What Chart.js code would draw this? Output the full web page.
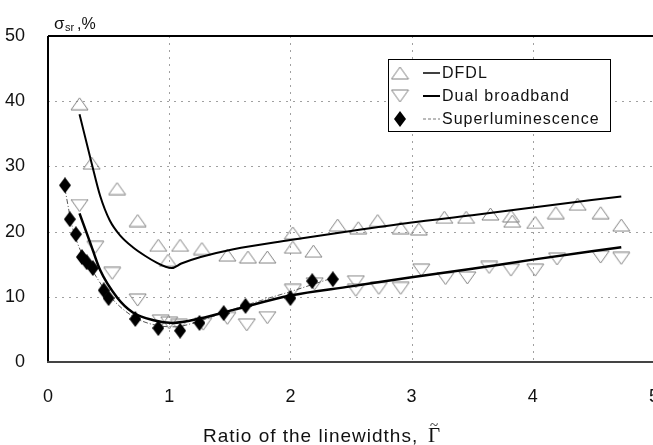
<!DOCTYPE html>
<html lang="en">
<head>
<meta charset="UTF-8">
<title>Ratio of the linewidths</title>
<script src="https://cdn.jsdelivr.net/npm/chart.js"></script>
<style>
  body { margin: 0; overflow: hidden; background: #fff; }
  #wrap { width: 675px; height: 445px; }
</style>
</head>
<body>
<div id="wrap"><canvas id="grafico"></canvas></div>
<script>
// valores
const dfdlX = [0.26, 0.36, 0.57, 0.74, 0.91, 0.99, 1.09, 1.27, 1.48, 1.65, 1.81, 2.02, 2.02, 2.19, 2.39, 2.56, 2.72, 2.91, 3.06, 3.27, 3.45, 3.65, 3.82, 3.83, 4.02, 4.19, 4.37, 4.56, 4.73];
const dfdlY = [39.6, 30.5, 26.6, 21.7, 17.9, 15.6, 17.9, 17.4, 16.4, 16.1, 16.1, 19.8, 17.6, 17.0, 21.0, 20.6, 21.7, 20.6, 20.4, 22.2, 22.2, 22.7, 22.4, 21.6, 21.4, 22.9, 24.2, 22.9, 21.0];

const dualX = [0.26, 0.39, 0.53, 0.74, 0.93, 1.0, 1.08, 1.28, 1.48, 1.64, 1.81, 2.02, 2.2, 2.54, 2.54, 2.73, 2.91, 3.08, 3.28, 3.46, 3.64, 3.82, 4.02, 4.2, 4.56, 4.73];
const dualY = [24.0, 17.6, 13.6, 9.5, 6.3, 6.0, 5.6, 5.8, 6.7, 5.7, 6.8, 11.0, 12.0, 12.3, 11.0, 11.3, 11.3, 14.1, 12.8, 12.9, 14.5, 14.1, 14.1, 15.8, 16.1, 15.9];

const superX = [0.14, 0.18, 0.23, 0.28, 0.32, 0.37, 0.46, 0.50, 0.72, 0.91, 1.09, 1.25, 1.45, 1.63, 2.0, 2.18, 2.35];
const superY = [27.1, 21.9, 19.6, 16.1, 15.3, 14.4, 11.0, 9.8, 6.6, 5.2, 4.8, 6.0, 7.5, 8.6, 9.8, 12.4, 12.7];

const dfdlFitX = [0.26, 0.36, 0.43, 0.51, 0.60, 0.70, 0.80, 0.90, 0.97, 1.02, 1.10, 1.26, 1.53, 2.0, 2.5, 3.0, 3.5, 4.0, 4.73];
const dfdlFitY = [38.0, 30.5, 25.5, 21.7, 19.3, 17.6, 16.3, 15.2, 14.6, 14.4, 15.1, 16.1, 17.3, 18.7, 20.1, 21.4, 22.5, 23.7, 25.4];

const dualFitX = [0.26, 0.35, 0.43, 0.57, 0.70, 0.87, 1.03, 1.26, 1.53, 2.0, 2.5, 3.0, 3.5, 4.0, 4.73];
const dualFitY = [22.8, 18.2, 14.1, 9.9, 7.6, 6.4, 6.0, 6.7, 8.0, 10.2, 11.6, 13.0, 14.3, 15.7, 17.6];

const superFitX = [0.14, 0.20, 0.28, 0.37, 0.50, 0.70, 0.90, 1.05, 1.25, 1.50, 1.75, 2.0, 2.35];
const superFitY = [26.5, 20.8, 16.6, 13.9, 10.3, 7.0, 5.6, 5.4, 6.3, 7.9, 9.4, 10.8, 12.9];

const xTicks = [0, 1, 2, 3, 4, 5];
const yTicks = [0, 10, 20, 30, 40, 50];

const fonte = "'Liberation Sans', Arial, sans-serif";

function pts(xs, ys) {
    return xs.map((x, i) => ({ x: x, y: ys[i] }));
}

// marcadores desenhados num canvas pequeno
function makeMarker(tipo) {
    const c = document.createElement('canvas');
    const ctx = c.getContext('2d');
    if (tipo === 'diamond') {
        c.width = 12; c.height = 16;
        ctx.fillStyle = '#000';
        ctx.beginPath();
        ctx.moveTo(6, 0); ctx.lineTo(12, 8); ctx.lineTo(6, 16); ctx.lineTo(0, 8);
        ctx.closePath();
        ctx.fill();
        return c;
    }
    c.width = 19; c.height = 14;
    ctx.strokeStyle = '#808080';
    ctx.lineWidth = 1;
    ctx.beginPath();
    if (tipo === 'up') {
        ctx.moveTo(9.5, 1); ctx.lineTo(18, 13); ctx.lineTo(1, 13);
    } else {
        ctx.moveTo(1, 1); ctx.lineTo(18, 1); ctx.lineTo(9.5, 13);
    }
    ctx.closePath();
    ctx.stroke();
    return c;
}

const upMark = makeMarker('up');
const downMark = makeMarker('down');
const diaMark = makeMarker('diamond');

// grade pontilhada e moldura
const moldura = {
    id: 'moldura',
    beforeDatasetsDraw(chart) {
        const { ctx, chartArea: a, scales } = chart;
        ctx.save();
        ctx.strokeStyle = '#a0a0a0';
        ctx.lineWidth = 1;
        ctx.setLineDash([2, 5]);
        yTicks.slice(1, -1).forEach(v => {
            const y = Math.round(scales.y.getPixelForValue(v)) + 0.5;
            ctx.beginPath(); ctx.moveTo(a.left, y); ctx.lineTo(a.right, y); ctx.stroke();
        });
        xTicks.slice(1, -1).forEach(v => {
            const x = Math.round(scales.x.getPixelForValue(v)) + 0.5;
            ctx.beginPath(); ctx.moveTo(x, a.top); ctx.lineTo(x, a.bottom); ctx.stroke();
        });
        ctx.setLineDash([]);
        ctx.lineWidth = 2;
        ctx.strokeStyle = '#000';
        ctx.beginPath(); ctx.moveTo(a.left, a.top); ctx.lineTo(a.right, a.top); ctx.stroke();
        ctx.beginPath(); ctx.moveTo(a.left, a.top); ctx.lineTo(a.left, a.bottom); ctx.stroke();
        ctx.strokeStyle = '#444';
        ctx.beginPath(); ctx.moveTo(a.left - 1, a.bottom); ctx.lineTo(a.right, a.bottom); ctx.stroke();
        ctx.restore();
    },
    afterDraw(chart) {
        const { ctx } = chart;
        ctx.save();
        ctx.fillStyle = '#111';
        ctx.textBaseline = 'alphabetic';
        ctx.textAlign = 'left';

        // rótulo do eixo y
        ctx.font = '17px ' + fonte;
        ctx.fillText('σ', 54, 29);
        ctx.font = '11px ' + fonte;
        ctx.fillText('sr', 65, 31);
        ctx.font = '16px ' + fonte;
        ctx.fillText(',%', 77, 29);

        // título do eixo x
        ctx.font = '19px ' + fonte;
        ctx.letterSpacing = '1px';
        ctx.fillText('Ratio of the linewidths,', 203, 442);
        ctx.letterSpacing = '0px';
        ctx.font = '21px "Liberation Serif", "DejaVu Serif", serif';
        ctx.fillText('Γ', 428, 442);
        ctx.font = '15px "Liberation Serif", "DejaVu Serif", serif';
        ctx.fillText('~', 430, 430);

        // legenda
        const bx = 388.5, by = 59.5, bw = 222, bh = 72;
        ctx.fillStyle = '#fff';
        ctx.fillRect(bx, by, bw, bh);
        ctx.strokeStyle = '#000';
        ctx.lineWidth = 1;
        ctx.strokeRect(bx, by, bw, bh);
        const itens = [
            { mark: upMark, text: 'DFDL', dash: [], cor: '#000', lw: 1.5 },
            { mark: downMark, text: 'Dual broadband', dash: [], cor: '#000', lw: 2 },
            { mark: diaMark, text: 'Superluminescence', dash: [3, 2], cor: '#777', lw: 1 }
        ];
        const rows = [73, 96, 119];
        itens.forEach((it, i) => {
            const y = rows[i];
            ctx.drawImage(it.mark, 400 - it.mark.width / 2, y - it.mark.height / 2);
            ctx.strokeStyle = it.cor;
            ctx.lineWidth = it.lw;
            ctx.setLineDash(it.dash);
            ctx.beginPath(); ctx.moveTo(423, y); ctx.lineTo(440, y); ctx.stroke();
            ctx.setLineDash([]);
            ctx.fillStyle = '#111';
            ctx.font = '16px ' + fonte;
            ctx.letterSpacing = '1px';
            ctx.textBaseline = 'middle';
            ctx.fillText(it.text, 442, y + 1);
            ctx.letterSpacing = '0px';
        });
        ctx.restore();
    }
};

const ctxGraf = document.getElementById('grafico').getContext('2d');
new Chart(ctxGraf, {
    type: 'scatter',
    data: {
        datasets: [
            {
                label: 'Superluminescence',
                data: pts(superX, superY),
                pointStyle: diaMark,
                showLine: false,
                order: 0
            },
            {
                label: 'DFDL fit',
                data: pts(dfdlFitX, dfdlFitY),
                showLine: true,
                pointRadius: 0,
                borderColor: '#000',
                borderWidth: 2,
                cubicInterpolationMode: 'monotone',
                order: 1
            },
            {
                label: 'Dual broadband fit',
                data: pts(dualFitX, dualFitY),
                showLine: true,
                pointRadius: 0,
                borderColor: '#000',
                borderWidth: 2.5,
                cubicInterpolationMode: 'monotone',
                order: 1
            },
            {
                label: 'Superluminescence fit',
                data: pts(superFitX, superFitY),
                showLine: true,
                pointRadius: 0,
                borderColor: '#555',
                borderWidth: 1,
                borderDash: [5, 2, 1, 2],
                cubicInterpolationMode: 'monotone',
                order: 1
            },
            {
                label: 'DFDL',
                data: pts(dfdlX, dfdlY),
                pointStyle: upMark,
                showLine: false,
                order: 2
            },
            {
                label: 'Dual broadband',
                data: pts(dualX, dualY),
                pointStyle: downMark,
                showLine: false,
                order: 2
            }
        ]
    },
    options: {
        responsive: true,
        maintainAspectRatio: false,
        animation: false,
        layout: { padding: { top: 36, right: 17, left: 0, bottom: 0 } },
        plugins: {
            legend: { display: false },
            tooltip: { enabled: false }
        },
        scales: {
            x: {
                type: 'linear',
                min: 0,
                max: 5,
                grid: { display: false },
                border: { display: false },
                afterFit: s => { s.height = 83; },
                afterBuildTicks: s => { s.ticks = xTicks.map(v => ({ value: v })); },
                ticks: {
                    padding: 16,
                    color: '#111',
                    font: { family: fonte, size: 18 }
                }
            },
            y: {
                min: 0,
                max: 50,
                grid: { display: false },
                border: { display: false },
                afterFit: s => { s.width = 48; },
                afterBuildTicks: s => { s.ticks = yTicks.map(v => ({ value: v })); },
                ticks: {
                    padding: 15,
                    color: '#111',
                    font: { family: fonte, size: 18 }
                }
            }
        }
    },
    plugins: [moldura]
});
</script>
</body>
</html>
